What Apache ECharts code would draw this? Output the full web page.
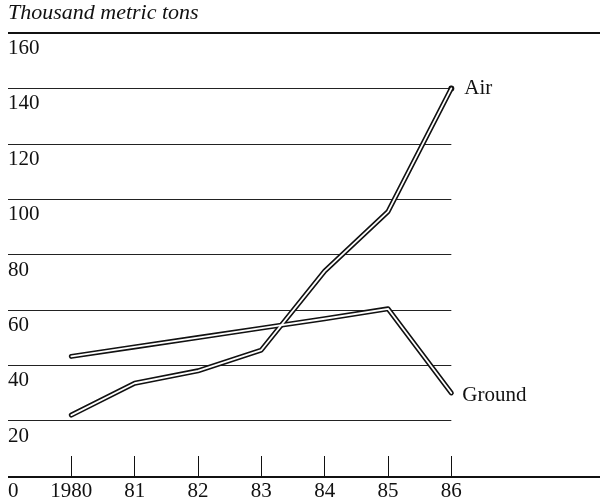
<!DOCTYPE html>
<html>
<head>
<meta charset="utf-8">
<script src="https://cdn.jsdelivr.net/npm/echarts@6/dist/echarts.min.js"></script>
<style>html,body{margin:0;padding:0;background:#fff}#c{width:600px;height:502px}</style>
</head>
<body>
<div id="c"></div>
<script>
var years = [1980, 1981, 1982, 1983, 1984, 1985, 1986];
var yearLabels = ['1980', '81', '82', '83', '84', '85', '86'];
var airValues = [22, 33.5, 38, 45.5, 74, 95.5, 140];
var groundValues = [43.2, 46.6, 50, 53.4, 56.8, 60.4, 30];
var yTicks = [0, 20, 40, 60, 80, 100, 120, 140, 160];

var FONT = 'Liberation Serif';
var INK = '#111';

function pairs(vals) { return years.map(function (y, i) { return [y, vals[i]]; }); }

function outer(name, vals, labelOpts, dot) {
  return {
    type: 'line', name: name, data: pairs(vals), xAxisIndex: 0, yAxisIndex: 0,
    showSymbol: true, symbol: 'circle',
    symbolSize: function (v, p) { return (dot && p.dataIndex === vals.length - 1) ? 6 : 0; },
    itemStyle: { color: INK },
    lineStyle: { color: INK, width: 5, cap: 'round', join: 'round' },
    endLabel: Object.assign({ show: true, formatter: name, fontFamily: FONT, fontSize: 21, color: INK }, labelOpts),
    z: 3
  };
}
function inner(name, vals) {
  return {
    type: 'line', name: name + '_in', data: pairs(vals), xAxisIndex: 0, yAxisIndex: 0,
    showSymbol: false, symbol: 'none',
    lineStyle: { color: '#fff', width: 1.8, cap: 'round', join: 'round' },
    z: 4
  };
}

var chart = echarts.init(document.getElementById('c'), null, { renderer: 'canvas' });
chart.setOption({
  animation: false,
  backgroundColor: '#fff',
  title: {
    text: 'Thousand metric tons', left: 8, top: 2, padding: 0,
    textStyle: { fontFamily: FONT, fontStyle: 'italic', fontWeight: 'normal', fontSize: 22, color: INK }
  },
  grid: [
    { left: 8, right: 148.67, top: 33, bottom: 25, containLabel: false },
    { left: 8, right: 0, top: 33, bottom: 25, containLabel: false }
  ],
  xAxis: [
    {
      type: 'value', gridIndex: 0, min: 1979, max: 1986, interval: 1,
      axisLine: { show: false },
      splitLine: { show: false },
      axisTick: { show: true, inside: true, length: 20, customValues: years, lineStyle: { color: INK, width: 1 } },
      axisLabel: {
        show: true, customValues: years, margin: 5,
        formatter: function (v) { var i = years.indexOf(v); return i >= 0 ? yearLabels[i] : ''; },
        fontFamily: FONT, fontSize: 21, color: INK
      }
    },
    {
      type: 'value', gridIndex: 1, min: 0, max: 1, show: false
    }
  ],
  yAxis: [
    {
      type: 'value', gridIndex: 0, min: 0, max: 160, interval: 20,
      axisLine: { show: false }, axisTick: { show: false },
      splitLine: { show: true, lineStyle: { color: '#222', width: 1 } },
      axisLabel: {
        show: true, inside: true, margin: 0, verticalAlign: 'top', align: 'left',
        padding: [5, 0, 0, 0],
        customValues: yTicks,
        fontFamily: FONT, fontSize: 21, color: INK
      }
    },
    {
      type: 'value', gridIndex: 1, min: 0, max: 160, interval: 160,
      axisLine: { show: false }, axisTick: { show: false }, axisLabel: { show: false },
      splitLine: { show: true, lineStyle: { color: INK, width: 2 } }
    }
  ],
  series: [
    outer('Air', airValues, { distance: 13, offset: [0, 0] }, true),
    inner('Air', airValues),
    outer('Ground', groundValues, { distance: 11, offset: [0, 3] }, false),
    inner('Ground', groundValues)
  ]
});
</script>
</body>
</html>
